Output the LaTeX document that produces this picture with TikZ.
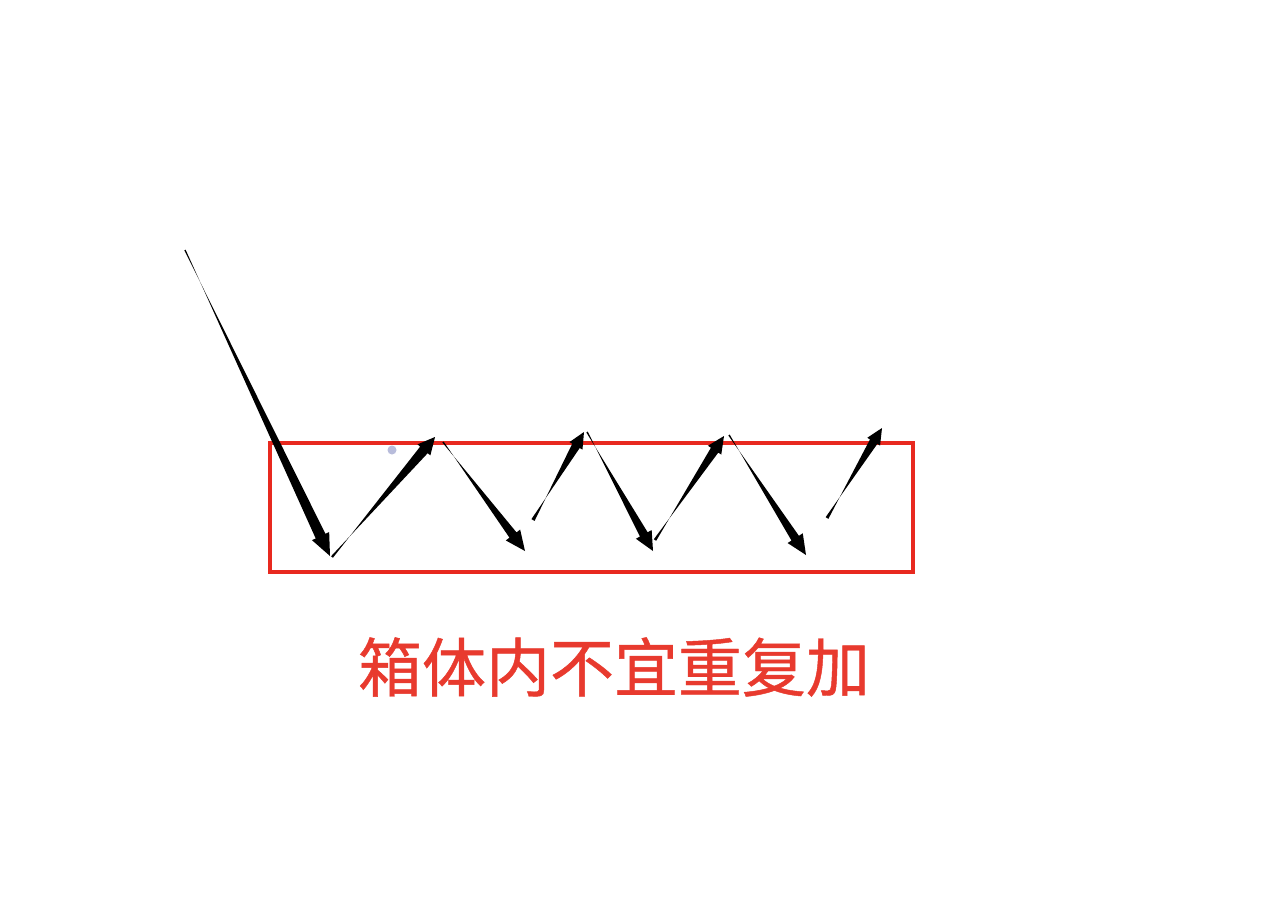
\documentclass[tikz,border=0pt]{standalone}
\usepackage{fontspec}
\newfontfamily\cjk[FakeBold=0.7]{Noto Sans CJK SC}
\usetikzlibrary{calc}
\definecolor{boxred}{HTML}{E8291F}
\definecolor{txtred}{HTML}{E83A2E}
\definecolor{dotc}{HTML}{B8BCDB}
\newcommand\taparrow[6]{%
  % #1 start, #2 tip, #3 start half-width, #4 shaft half-width at head, #5 head length, #6 head half-width
  \coordinate (hb) at ($(#2)!#5!(#1)$);
  \fill[black] ($(#1)!#3!90:(#2)$) -- ($(hb)!#4!-90:(#2)$) -- ($(hb)!#6!-90:(#2)$) -- (#2)
    -- ($(hb)!#6!90:(#2)$) -- ($(hb)!#4!90:(#2)$) -- ($(#1)!#3!-90:(#2)$) -- cycle;
}
\begin{document}
\begin{tikzpicture}[x=1pt,y=-1pt]
\useasboundingbox (0,0) rectangle (1288,916);
\fill[white] (0,0) rectangle (1288,916);
% red box
\draw[boxred,line width=4pt] (270,443) rectangle (913,572);
% points
\coordinate (a0) at (185,250);
\coordinate (a1) at (330,556);
\coordinate (b0) at (332,557);
\coordinate (b1) at (435,437);
\coordinate (c0) at (443,442);
\coordinate (c1) at (525,551);
\coordinate (d0) at (533,520);
\coordinate (d1) at (584,432);
\coordinate (e0) at (587,432);
\coordinate (e1) at (653,551);
\coordinate (f0) at (655,540);
\coordinate (f1) at (724,436);
\coordinate (g0) at (729,435);
\coordinate (g1) at (806,555);
\coordinate (h0) at (827,518);
\coordinate (h1) at (882,428);
\taparrow{a0}{a1}{0.7pt}{5.4pt}{22pt}{9.5pt}
\taparrow{b0}{b1}{1.2pt}{5.0pt}{17pt}{8.5pt}
\taparrow{c0}{c1}{0.8pt}{4.4pt}{20pt}{9pt}
\taparrow{d0}{d1}{1.8pt}{4.3pt}{16pt}{7.5pt}
\taparrow{e0}{e1}{0.8pt}{4.4pt}{19pt}{9pt}
\taparrow{f0}{f1}{1.4pt}{4.4pt}{17pt}{8pt}
\taparrow{g0}{g1}{0.8pt}{4.4pt}{20pt}{9pt}
\taparrow{h0}{h1}{1.6pt}{4.3pt}{16pt}{7.5pt}
% small handle dot
\fill[dotc] (392,450) circle (4.5pt);
% caption
\node[txtred,font=\cjk\fontsize{64}{72}\selectfont,inner sep=0pt] (cap) at (614,667) {箱体内不宜重复加};
\end{tikzpicture}
\end{document}
